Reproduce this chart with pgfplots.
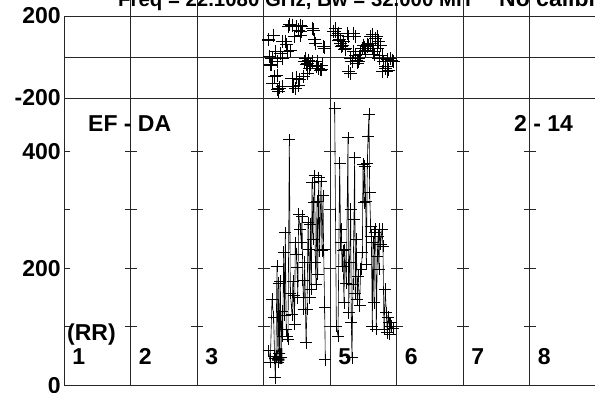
\documentclass[border=0pt]{standalone}
\usepackage{fontspec}
\setmainfont{Liberation Sans}
\usepackage{pgfplots}
\pgfplotsset{compat=1.18}

\pgfplotstableread{
x y
3.068 84
3.073 83
3.083 3
3.098 -39
3.108 -38
3.123 -7
3.128 -127
3.148 107
3.158 -95
3.173 26
3.198 -23
3.198 -88
3.203 -160
3.224 -169
3.233 -151
3.249 18
3.274 -7
3.274 -145
3.284 76
3.324 75
3.334 60
3.349 26
3.374 148
3.384 158
3.399 34
3.424 156
3.424 -104
3.434 -143
3.449 -145
3.474 -153
3.459 100
3.489 149
3.494 -102
3.524 132
3.524 -137
3.539 -111
3.549 156
3.549 107
3.574 148
3.559 125
3.600 -96
3.610 -21
3.625 -7
3.635 -38
3.650 -31
3.650 -80
3.675 -15
3.685 -54
3.700 -39
3.725 -23
3.735 141
3.750 132
3.760 84
3.775 66
3.785 -46
3.800 -23
3.825 -56
3.850 -63
3.861 -62
3.875 -39
3.900 50
3.910 44
}\phaseA

\pgfplotstableread{
x y
4.050 123
4.070 125
4.075 140
4.100 107
4.120 117
4.125 83
4.145 84
4.150 66
4.170 52
4.176 58
4.200 75
4.220 36
4.226 42
4.251 115
4.270 -70
4.276 99
4.276 -72
4.301 -7
4.301 -80
4.326 -23
4.345 117
4.351 26
4.371 100
4.376 10
4.401 -15
4.411 -29
4.426 -23
4.431 -5
4.452 26
4.456 11
4.477 42
4.502 58
4.507 44
4.527 34
4.552 50
4.557 60
4.577 58
4.602 66
4.607 100
4.627 42
4.632 109
4.652 26
4.657 11
4.677 91
4.702 99
4.707 44
4.727 75
4.732 -5
4.752 58
4.777 10
4.782 -70
4.802 -23
4.827 -56
4.833 -46
4.852 -72
4.858 -13
4.877 -63
4.902 -7
4.927 -15
4.952 -23
}\phaseB

\pgfplotstableread{
x y
3.073 59
3.098 40
3.123 147
3.148 116
3.163 46
3.173 13
3.183 50
3.198 204
3.213 40
3.224 174
3.234 55
3.249 178
3.259 48
3.274 127
3.284 84
3.299 227
3.312 120
3.324 261
3.337 95
3.349 84
3.364 79
3.384 420
3.399 158
3.424 121
3.437 178
3.449 153
3.462 105
3.474 244
3.489 224
3.499 201
3.512 150
3.524 292
3.549 267
3.564 244
3.574 289
3.587 180
3.600 130
3.615 210
3.635 73
3.650 130
3.665 278
3.675 232
3.688 150
3.700 275
3.715 164
3.725 346
3.738 250
3.750 312
3.765 358
3.775 210
3.785 173
3.800 315
3.812 190
3.825 355
3.840 230
3.860 349
3.875 230
3.890 324
3.900 232
3.915 133
3.925 44
}\ampA

\pgfplotstableread{
x y
4.066 474
4.091 101
4.116 84
4.141 380
4.156 244
4.166 267
4.176 204
4.191 230
4.206 141
4.216 232
4.241 175
4.266 423
4.276 124
4.291 210
4.306 301
4.316 107
4.326 47
4.341 173
4.356 284
4.366 389
4.376 158
4.391 250
4.406 147
4.416 187
4.441 136
4.456 198
4.466 198
4.482 227
4.492 378
4.507 312
4.517 375
4.532 315
4.542 207
4.557 380
4.567 426
4.582 463
4.592 329
4.607 272
4.617 255
4.632 101
4.642 244
4.657 141
4.667 261
4.682 267
4.692 96
4.707 221
4.717 255
4.732 198
4.742 267
4.757 241
4.777 267
4.792 238
4.807 96
4.827 164
4.842 124
4.857 90
4.867 116
4.882 107
4.892 87
4.907 107
4.917 101
4.942 98
}\ampB

\newcommand\fs{\fontsize{23}{23}\selectfont\bfseries}
\newcommand\fst{\fontsize{20.4}{21}\selectfont\bfseries}
\tikzset{pline/.style={black!85, line width=0.7pt}}

\begin{document}
\begin{tikzpicture}[x=1pt,y=1pt]
\pgfplotsset{
  panel/.style={
    scale only axis, width=532pt, xmin=0, xmax=8,
    axis line style={black!85, line width=0.7pt},
    xtick=\empty,
    minor xtick={0.31,0.62,0.93,1.31,1.62,1.93,2.31,2.62,2.93,3.31,3.62,3.93,4.31,4.62,4.93,5.31,5.62,5.93,6.31,6.62,6.93,7.31,7.62,7.93},
    minor tick length=5pt, tick align=inside, xtick pos=both, ytick pos=left,
    every tick/.style={black!85, line width=0.6pt},
    tick label style={font=\fs},
    /pgf/number format/assume math mode=true,
    clip=false,
  },
}

% amplitude panel
\begin{axis}[panel, at={(64.3pt,6.7pt)}, anchor=south west, height=287.3pt,
  ymin=0, ymax=491, ytick={0,100,200,300,400}, yticklabels={0,,200,,400},
  major tick length=6pt]
  \pgfplotsinvokeforeach{1,...,7}{
    \draw[pline] (axis cs:#1,0) -- (axis cs:#1,491);
    \draw[pline] (axis cs:#1,100) ++(-6pt,0) -- ++(12pt,0);
    \draw[pline] (axis cs:#1,200) ++(-6pt,0) -- ++(12pt,0);
    \draw[pline] (axis cs:#1,300) ++(-6pt,0) -- ++(12pt,0);
    \draw[pline] (axis cs:#1,400) ++(-6pt,0) -- ++(12pt,0);
  }
  \addplot[black, line width=0.6pt, mark=+, mark size=6pt, mark options={line width=0.7pt}] table {\ampA};
  \addplot[black, line width=0.6pt, mark=+, mark size=6pt, mark options={line width=0.7pt}] table {\ampB};
  \node[anchor=base west, inner sep=0pt, font=\fs] at (axis cs:0.356,433) {EF - DA};
  \node[anchor=base west, inner sep=0pt, font=\fs] at (axis cs:6.762,433) {2 - 14};
  \node[anchor=base west, inner sep=0pt, font=\fs] at (axis cs:0.04,77) {(RR)};
  \node[anchor=base west, inner sep=0pt, font=\fs] at (axis cs:0.12,34.7) {1};
  \node[anchor=base west, inner sep=0pt, font=\fs] at (axis cs:1.12,34.7) {2};
  \node[anchor=base west, inner sep=0pt, font=\fs] at (axis cs:2.12,34.7) {3};
  \node[anchor=base west, inner sep=0pt, font=\fs] at (axis cs:3.12,34.7) {4};
  \node[anchor=base west, inner sep=0pt, font=\fs] at (axis cs:4.12,34.7) {5};
  \node[anchor=base west, inner sep=0pt, font=\fs] at (axis cs:5.12,34.7) {6};
  \node[anchor=base west, inner sep=0pt, font=\fs] at (axis cs:6.12,34.7) {7};
  \node[anchor=base west, inner sep=0pt, font=\fs] at (axis cs:7.12,34.7) {8};
\end{axis}

% phase panel
\begin{axis}[panel, at={(64.3pt,294pt)}, anchor=south west, height=82pt,
  ymin=-200, ymax=200, ytick={-200,200}, yticklabels={-200,200},
  major tick length=0pt]
  \draw[pline] (axis cs:0,0) -- (axis cs:8,0);
  \pgfplotsinvokeforeach{1,...,7}{
    \draw[pline] (axis cs:#1,-200) -- (axis cs:#1,200) -- ++(0,3pt);
  }
  \addplot[only marks, black, mark=+, mark size=6.5pt, mark options={line width=0.7pt}] table {\phaseA};
  \addplot[only marks, black, mark=+, mark size=6.5pt, mark options={line width=0.7pt}] table {\phaseB};
\end{axis}

\node[anchor=base west, inner sep=0pt, font=\fst] at (118,385) {Freq = 22.1080 GHz, Bw = 32.000 MH};
\node[anchor=base west, inner sep=0pt, font=\fs] at (499,385) {No calibration};

\pgfresetboundingbox
\path[use as bounding box] (0,0) rectangle (595,392);
\end{tikzpicture}
\end{document}
